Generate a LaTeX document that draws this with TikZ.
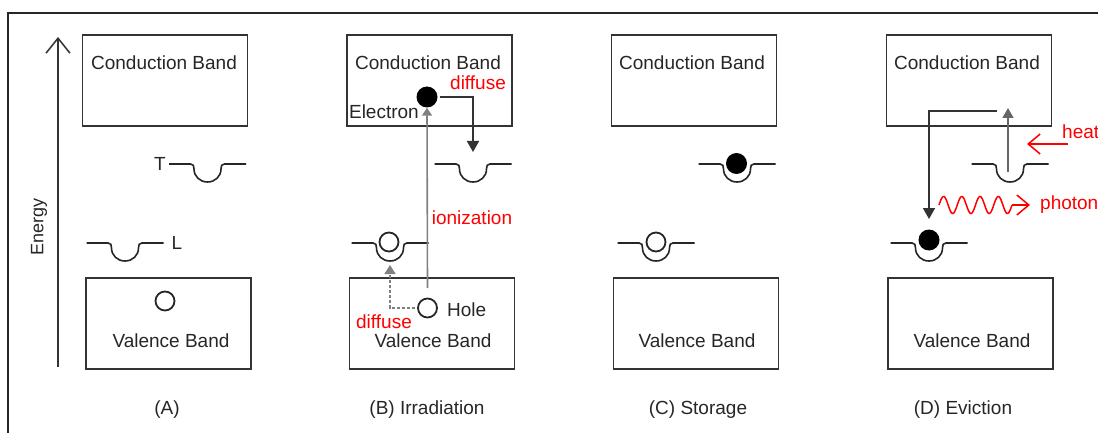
\documentclass[tikz,border=0pt]{standalone}
\usepackage{fontspec}
\setmainfont{Liberation Sans}
\usetikzlibrary{arrows.meta}
\tikzset{
  band/.style={draw=black!80, line width=1.8pt, minimum width=165pt, minimum height=91pt, inner sep=0pt},
  txt/.style={font=\fontsize{19}{22}\selectfont, text=black!85, inner sep=0pt},
  rtxt/.style={txt, text=red},
  trapline/.style={draw=black!85, line width=1.6pt},
  hole/.style={circle, draw=black!85, line width=1.8pt, minimum size=19pt, inner sep=0pt},
  elec/.style={circle, fill=black, minimum size=21pt, inner sep=0pt},
  darr/.style={draw=black!80, line width=1.6pt, -{Triangle[length=11pt,width=12pt]}},
  garr/.style={draw=black!55, line width=1.6pt, -{Triangle[length=10pt,width=11pt]}},
  dotarr/.style={draw=black!50, line width=1.6pt, dash pattern=on 3pt off 2pt, -{Triangle[length=9pt,width=11pt]}},
  openarr/.style={line width=1.5pt, -{Straight Barb[length=12pt,width=20pt]}},
  pics/trap/.style={code={
    \draw[trapline] (-38.5,0) -- (-17,0) .. controls (-14,0) and (-13.5,2) .. (-13.5,5)
      .. controls (-13.5,12.5) and (-7.5,18) .. (0,18)
      .. controls (7.5,18) and (13.5,12.5) .. (13.5,5)
      .. controls (13.5,2) and (14,0) .. (17,0) -- (38.5,0);
  }}
}
\begin{document}
\begin{tikzpicture}[x=1pt,y=-1pt]
\useasboundingbox (0,0) rectangle (1098,433);
% frame
\draw[line width=2pt, black!85] (8,433) -- (8,13) -- (1098,13);
% energy axis
\coordinate (eBot) at (58,367);
\coordinate (eTop) at (58,37);
\draw[black!80, line width=1.5pt, -{Straight Barb[length=15pt,width=24pt]}] (eBot) -- (eTop);
\node[txt, font=\fontsize{18}{22}\selectfont, rotate=90] (energy) at (39,227) {Energy};

% ---------- Panel A ----------
\node[band] (cbA) at (165,80.5) {};
\node[txt] (cbAt) at (164,63) {Conduction Band};
\node[band] (vbA) at (168.5,323.5) {};
\node[txt] (vbAt) at (171,341) {Valence Band};
\pic at (207.5,164) {trap};
\node[txt] (T) at (160,164) {T};
\pic at (125,243) {trap};
\node[txt] (L) at (177,243) {L};
\node[hole] (hA) at (165,301) {};
\node[txt] (labA) at (167,410) {(A)};

% ---------- Panel B ----------
\node[band] (cbB) at (429.5,80.5) {};
\node[txt] (cbBt) at (428,63) {Conduction Band};
\node[band] (vbB) at (432,323.5) {};
\node[txt] (vbBt) at (433,341) {Valence Band};
\pic at (473,164) {trap};
\pic at (390,243) {trap};
\node[hole] (hLB) at (389,242) {};
\node[elec] (eB) at (427,97) {};
\node[txt, anchor=east] (elecB) at (419,112) {Electron};
\node[rtxt] (difB1) at (478,83) {diffuse};
\node[hole] (hB) at (427.5,308) {};
\node[txt, anchor=west] (holeB) at (447,310) {Hole};
\node[rtxt] (difB2) at (384,322) {diffuse};
\node[rtxt] (ionB) at (472,218) {ionization};
\node[txt] (labB) at (427,410) {(B) Irradiation};
\coordinate (ionStart) at (427.5,288);
\coordinate (tipB1) at (473,152);
\coordinate (tipB2) at (390,265);
\draw[garr, -{Triangle[length=8pt,width=10pt]}, draw=black!50] (ionStart) -- (eB.south);
\draw[darr, shorten <=2pt] (eB.east) -| (tipB1);
\draw[dotarr, shorten <=2pt] (hB.west) -| (tipB2);

% ---------- Panel C ----------
\node[band] (cbC) at (694,80.5) {};
\node[txt] (cbCt) at (692,63) {Conduction Band};
\node[band] (vbC) at (696,323.5) {};
\node[txt] (vbCt) at (697,341) {Valence Band};
\pic at (737,164) {trap};
\node[elec] (eC) at (736.5,163.5) {};
\pic at (656,243) {trap};
\node[hole] (hC) at (656,242) {};
\node[txt] (labC) at (698,410) {(C) Storage};

% ---------- Panel D ----------
\node[band] (cbD) at (969,80.5) {};
\node[txt] (cbDt) at (967,63) {Conduction Band};
\node[band] (vbD) at (970.5,323.5) {};
\node[txt] (vbDt) at (972,341) {Valence Band};
\pic at (1010,164) {trap};
\pic at (929,243) {trap};
\node[elec] (eD) at (929,240) {};
\coordinate (upStart) at (1008,172);
\coordinate (upTip) at (1008,108);
\draw[garr, draw=black!60] (upStart) -- (upTip);
\coordinate (dnStart) at (997,111);
\coordinate (dnTip) at (929,219);
\draw[darr] (dnStart) -| (dnTip);
\coordinate (heatStart) at (1068,144);
\coordinate (heatTip) at (1027,144);
\draw[openarr, red] (heatStart) -- (heatTip);
\node[rtxt, anchor=west] (heat) at (1062,132) {heat};
\coordinate (phStart) at (939,205);
\coordinate (phTip) at (1030,205);
\draw[red, line width=1.5pt] plot[domain=0:73, samples=120, smooth] ({939+\x}, {205-8.5*sin(\x/18.25*360)});
\draw[openarr, red] (1012,205) -- (phTip);
\node[rtxt, anchor=west] (photon) at (1040,205) {photon};
\node[txt] (labD) at (963,410) {(D) Eviction};
\end{tikzpicture}
\end{document}
